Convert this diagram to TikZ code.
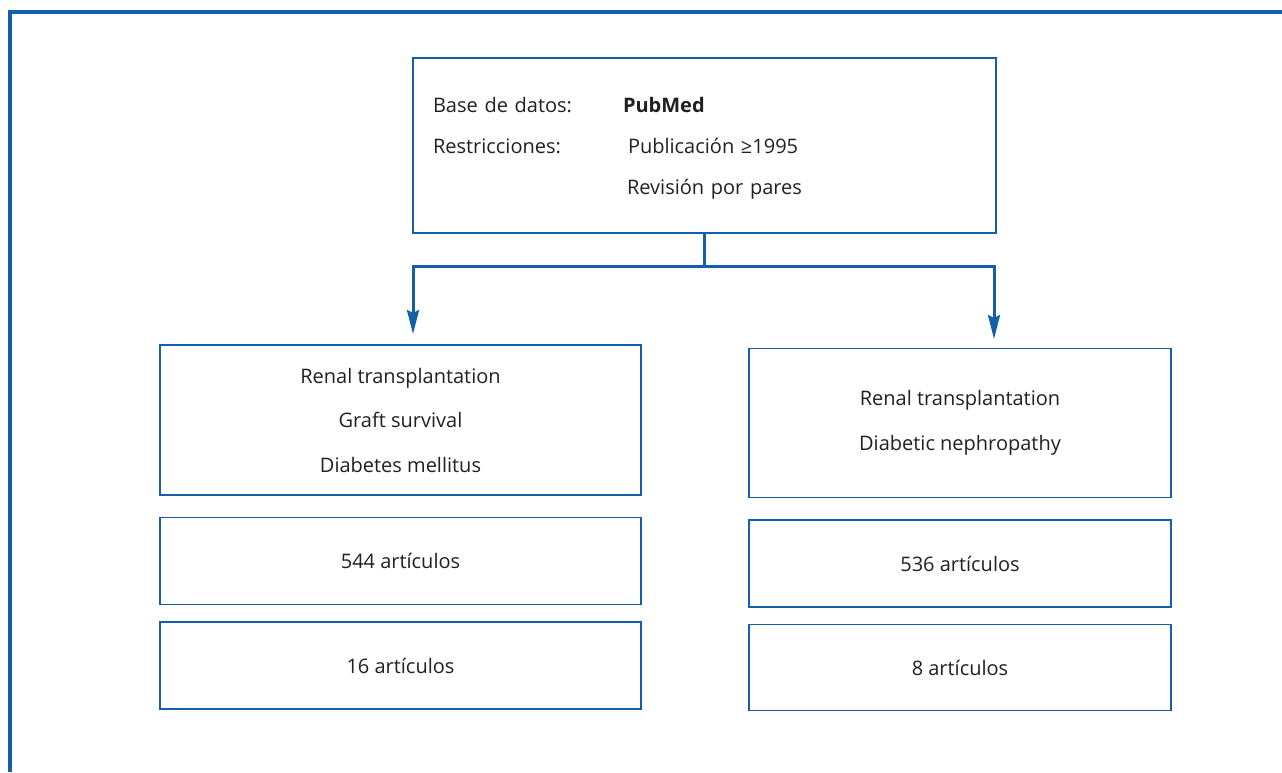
\documentclass[tikz,border=0pt]{standalone}
\usepackage{fontspec}
\setmainfont{Open Sans}
\usetikzlibrary{positioning,arrows.meta}
\definecolor{azul}{RGB}{20,94,170}
\definecolor{texto}{RGB}{35,31,32}

\begin{document}
\begin{tikzpicture}[x=1pt,y=-1pt]
        \tikzstyle{every node}=[text=texto, font=\fontsize{20}{44.5}\selectfont]
        \tikzstyle{caja}=[draw=azul, line width=1.5pt, align=center, inner sep=0pt]
        \tikzstyle{flecha}=[draw=azul, line width=3pt, -{Stealth[length=24pt,width=12pt,inset=3pt]}]

        \useasboundingbox (0,0) rectangle (1282,772);
        % marco
        \draw[azul, line width=3.5pt] (10,772) -- (10,12) -- (1282,12);

        % busqueda
        \node (db) [caja, minimum width=583pt, minimum height=175pt, text width=543pt, align=left,
                    font=\fontsize{20}{41}\selectfont] at (704.5,145.5) {%
            \begin{tabular}{@{}p{190pt}@{}l@{}}
                Base de datos: & \textbf{PubMed}\\
                Restricciones: & \hspace*{5pt}Publicación ≥1995\\
                               & \hspace*{4pt}Revisión por pares
            \end{tabular}};

        % columna izquierda
        \node (izq1) [caja, minimum width=481pt, minimum height=150pt] at (400.5,420)
            {Renal transplantation\\Graft survival\\Diabetes mellitus};
        \node (izq2) [caja, minimum width=481pt, minimum height=87pt, below=21pt of izq1] {544 artículos};
        \node (izq3) [caja, minimum width=481pt, minimum height=87pt, below=16pt of izq2] {16 artículos};

        % columna derecha
        \node (der1) [caja, minimum width=422pt, minimum height=149pt] at (960,423)
            {Renal transplantation\\Diabetic nephropathy};
        \node (der2) [caja, minimum width=422pt, minimum height=87pt, below=21pt of der1] {536 artículos};
        \node (der3) [caja, minimum width=422pt, minimum height=86pt, below=16pt of der2] {8 artículos};

        \coordinate (rama) at (704.5,266);
        \coordinate (punta1) at (413,334);
        \coordinate (punta2) at (994,339);

        \draw[azul, line width=3pt] (db.south) -- (rama);
        \draw[flecha] (rama) -| (punta1);
        \draw[flecha] (rama) -| (punta2);
\end{tikzpicture}
\end{document}
